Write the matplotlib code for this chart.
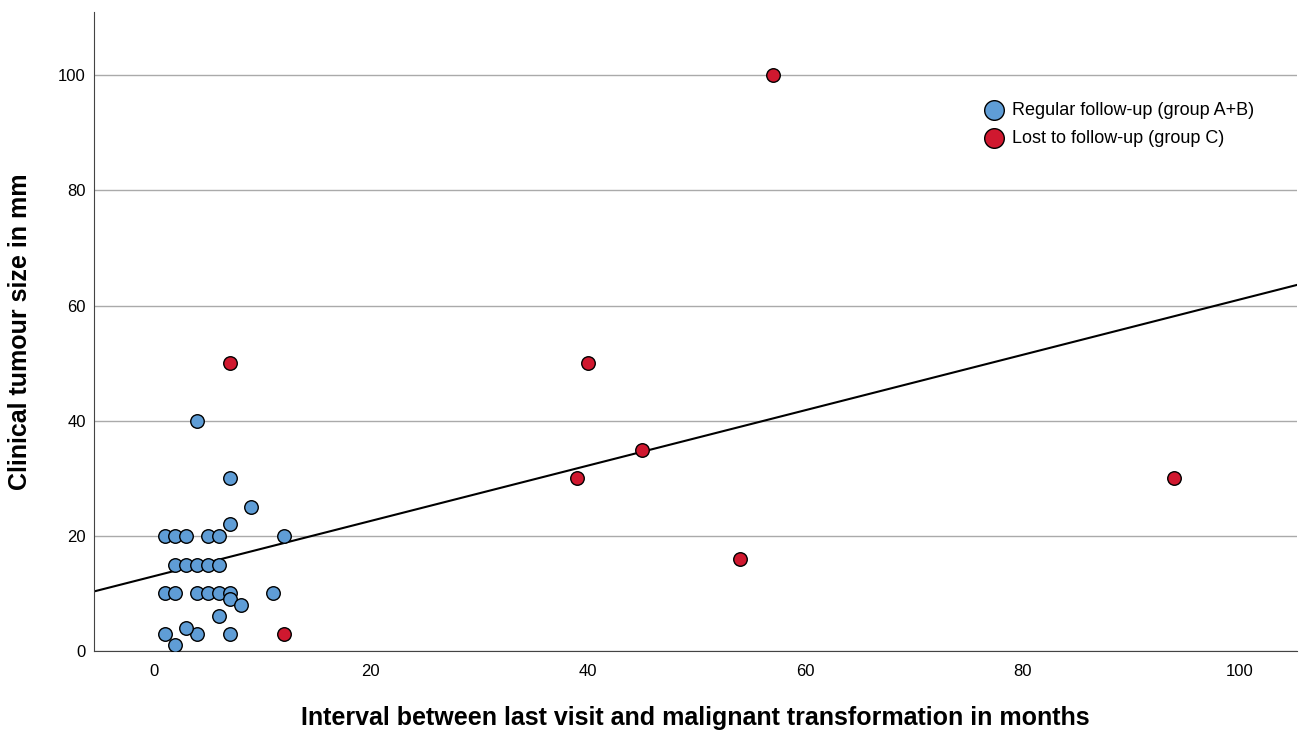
import matplotlib
matplotlib.use('Agg')
import matplotlib.pyplot as plt
import numpy as np

plt.rcParams['font.family'] = ['Liberation Sans', 'DejaVu Sans']

# group A+B (regular follow-up)
reg_x = [4, 7, 9, 7, 1, 2, 3, 5, 6, 12, 2, 3, 4, 5, 6, 1, 2, 4, 5, 6, 7, 11, 7, 8, 6, 1, 4, 7, 3, 2]
reg_y = [40, 30, 25, 22, 20, 20, 20, 20, 20, 20, 15, 15, 15, 15, 15, 10, 10, 10, 10, 10, 10, 10, 9, 8, 6, 3, 3, 3, 4, 1]

# group C (lost to follow-up)
lost_x = [7, 40, 45, 39, 54, 57, 94, 12]
lost_y = [50, 50, 35, 30, 16, 100, 30, 3]

blue = '#5f9dd6'
red = '#d0182f'

fig = plt.figure(figsize=(12.99, 7.30), dpi=100)
ax = fig.add_axes([0.0724, 0.1082, 0.9261, 0.8754])

# regression line over all points
all_x = np.array(reg_x + lost_x)
all_y = np.array(reg_y + lost_y)
k, b = np.polyfit(all_x, all_y, 1)
xl = np.array([-5.5, 105.3])
ax.plot(xl, k * xl + b, color='black', lw=1.5, zorder=2)

ax.scatter(reg_x, reg_y, s=95, c=blue, edgecolors='black', linewidths=1.0, zorder=3,
           label='Regular follow-up (group A+B)')
ax.scatter(lost_x, lost_y, s=95, c=red, edgecolors='black', linewidths=1.0, zorder=3,
           label='Lost to follow-up (group C)')

ax.set_xlim(-5.5, 105.3)
ax.set_ylim(0, 111)
ax.set_xticks([0, 20, 40, 60, 80, 100])
ax.set_yticks([0, 20, 40, 60, 80, 100])
ax.tick_params(axis='x', length=0, labelsize=12, pad=9)
ax.tick_params(axis='y', length=0, labelsize=12, pad=6)
ax.yaxis.grid(True, color='#aaaaaa', lw=1.0)
ax.set_axisbelow(True)
for s in ['top', 'right']:
    ax.spines[s].set_visible(False)
ax.spines['left'].set_color('#444444')
ax.spines['bottom'].set_color('#444444')

ax.set_xlabel('Interval between last visit and malignant transformation in months',
              fontsize=18, fontweight='bold', labelpad=20)
ax.set_ylabel('Clinical tumour size in mm', fontsize=18, fontweight='bold', labelpad=19)

ax.legend(loc='upper right', bbox_to_anchor=(0.978, 0.885), frameon=False, fontsize=13,
          markerscale=1.45, handletextpad=0.0, labelspacing=0.6)

fig.savefig('out.png', dpi=100)
